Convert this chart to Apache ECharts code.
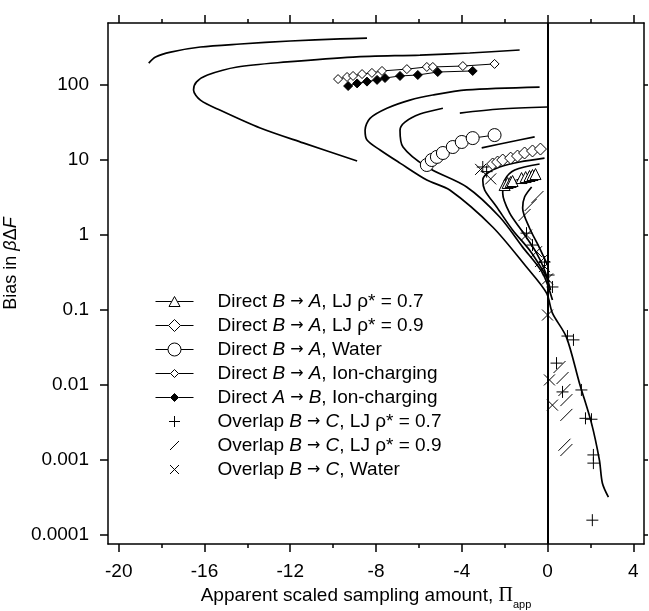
<!DOCTYPE html>
<html>
<head>
<meta charset="utf-8">
<script src="https://cdn.jsdelivr.net/npm/echarts@6/dist/echarts.min.js"></script>
<style>
html, body { margin: 0; padding: 0; background: #fff; }
#chart { width: 649px; height: 611px; }
</style>
</head>
<body>
<div id="chart"></div>
<script>
var FONT = "'Liberation Sans', Arial, sans-serif";

// axis ticks
var xMajor = [-20, -16, -12, -8, -4, 0, 4];
var xMinor = [-18, -14, -10, -6, -2, 2];
var yMajor = [0.0001, 0.001, 0.01, 0.1, 1, 10, 100];

// legend names
var names = [
    'Direct B → A, LJ ρ* = 0.7',
    'Direct B → A, LJ ρ* = 0.9',
    'Direct B → A, Water',
    'Direct B → A, Ion-charging',
    'Direct A → B, Ion-charging',
    'Overlap B → C, LJ ρ* = 0.7',
    'Overlap B → C, LJ ρ* = 0.9',
    'Overlap B → C, Water'
];
var labels = [
    '{g|Direct }{i|B}{a| → }{i|A}{n|, LJ ρ* = 0.7}',
    '{g|Direct }{i|B}{a| → }{i|A}{n|, LJ ρ* = 0.9}',
    '{g|Direct }{i|B}{a| → }{i|A}{n|, Water}',
    '{g|Direct }{i|B}{a| → }{i|A}{n|, Ion-charging}',
    '{g|Direct }{i|A}{a| → }{i|B}{n|, Ion-charging}',
    '{g|Overlap }{i|B}{a| → }{i|C}{n|, LJ ρ* = 0.7}',
    '{g|Overlap }{i|B}{a| → }{i|C}{n|, LJ ρ* = 0.9}',
    '{g|Overlap }{i|B}{a| → }{i|C}{n|, Water}'
];

// direct estimates (markers)
var ljA07X = [-2.0, -1.86, -1.72, -1.63, -1.21, -1.02, -0.84, -0.70, -0.56];
var ljA07Y = [4.64, 4.94, 5.09, 5.25, 5.75, 5.93, 6.12, 6.31, 6.5];
var ljA09X = [-2.56, -2.33, -2.09, -1.72, -1.40, -1.07, -0.70, -0.33];
var ljA09Y = [8.85, 9.4, 10, 10.6, 11.3, 12.4, 13.2, 14.0];
var waterX = [-5.63, -5.40, -5.16, -4.88, -4.42, -4.0, -3.49, -2.47];
var waterY = [8.58, 10, 11, 12.4, 14.9, 17.4, 19.6, 21.5];
var ionBAX = [-9.77, -9.35, -9.07, -8.65, -8.19, -7.72, -6.56, -5.63, -5.35, -3.95, -2.47];
var ionBAY = [120, 128, 132, 140, 145, 154, 163, 174, 174, 179, 191];
var ionABX = [-9.30, -8.88, -8.42, -7.95, -7.58, -6.88, -6.05, -5.12, -3.49];
var ionABY = [97, 105, 111, 117, 124, 132, 136, 149, 154];

// overlap estimates
var ovl07X = [-3.02, -2.84, -0.98, -0.70, -0.14, 0.05, 0.23, 0.93, 1.21, 0.42, 0.70, 1.58, 1.77, 2.05, 2.14, 2.14, 2.09];
var ovl07Y = [8.07, 7.0, 1.06, 0.735, 0.436, 0.293, 0.203, 0.045, 0.040, 0.0196, 0.0081, 0.0086, 0.0036, 0.0035, 0.00117, 0.00091, 0.000158];
var ovl09X = [-1.07, -0.79, -0.47, -0.30, 0.56, 0.70, 0.79, 0.88, 0.88, 0.79, 0.88];
var ovl09Y = [1.85, 2.51, 3.21, 0.45, 0.0174, 0.0124, 0.0086, 0.0063, 0.004, 0.0016, 0.00136];
var ovlWX = [-3.12, -2.65, -0.98, -0.51, -0.14, 0.0, 0.0, 0.09, 0.23];
var ovlWY = [7.5, 5.6, 1.0, 0.6, 0.38, 0.26, 0.0858, 0.0117, 0.0054];

// predicted curves
var curveAX = [-18.60, -18.28, -17.58, -16.19, -14.33, -12.0, -9.67, -8.42];
var curveAY = [196, 236, 275, 321, 352, 386, 411, 423];
var curveBX = [-1.30, -3.63, -5.95, -9.07, -12.14, -14.47, -15.86, -16.37, -16.51, -16.19, -15.26, -13.40, -11.40, -8.88];
var curveBY = [293, 267, 251, 236, 203, 174, 136, 110, 86, 63, 46, 26.7, 16.9, 9.7];
var curveCX = [-0.37, -3.77, -5.35, -6.42, -7.49, -8.28, -8.51, -8.42, -7.81, -6.88, -5.63, -4.56, -2.56, -0.98, -0.05, 0.23, 0.88, 1.49, 2.05, 2.42, 2.56, 2.84];
var curveCY = [94, 86, 73.6, 63, 49, 36, 25, 18.5, 13.6, 9.1, 5.41, 3.98, 1.28, 0.374, 0.169, 0.091, 0.0436, 0.0106, 0.00311, 0.001, 0.00049, 0.00032];
var curveDX = [-4.88, -5.95, -6.65, -6.88, -6.74, -5.63, -3.77, -2.23, -1.16, -0.23, 0.23];
var curveDY = [49, 41, 32, 25, 14.9, 8.07, 4.37, 1.74, 0.69, 0.311, 0.136];
var curveEX = [-4.09, -2.23, 0];
var curveEY = [42.3, 47.9, 50.9];
var curveFX = [-3.07, -1.77, -0.6];
var curveFY = [14.5, 17.4, 20.3];
var curveGX = [-0.14, -1.30, -2.23, -2.79, -3.02, -2.93, -2.37, -1.63, -0.84, -0.23, 0.09];
var curveGY = [10.6, 9.4, 8.07, 6.71, 5.41, 3.98, 2.36, 1.17, 0.63, 0.341, 0.236];
var curveHX = [-0.37, -1.53, -2.0, -2.09, -1.77, -1.16, -0.51, -0.14, 0.14];
var curveHY = [8.85, 7.36, 5.41, 3.63, 1.97, 1.1, 0.575, 0.341, 0.185];
var curveIX = [-0.74, -1.07, -1.16, -0.84, -0.37, 0];
var curveIY = [4.37, 3.21, 2.29, 1.24, 0.671, 0.398];

function pts(xs, ys) {
    return xs.map(function (x, i) { return [x, ys[i]]; });
}

var black = '#000';
var anchor = 'M0,0L0,0M38,14L38,14';
var icons = [
    'path://' + anchor + 'M0,7L16.2,7M21.8,7L38,7M13.5,12L19,2L24.5,12Z',
    'path://' + anchor + 'M0,7L13,7M25,7L38,7M13,7L19,1L25,7L19,13Z',
    'path://' + anchor + 'M0,7L12.5,7M25.5,7L38,7M12.5,7A6.5,6.5,0,1,1,25.5,7A6.5,6.5,0,1,1,12.5,7Z',
    'path://' + anchor + 'M0,7L15,7M23,7L38,7M15,7L19,3L23,7L19,11Z',
    'path://' + anchor + 'M0,7L15,7M23,7L38,7M15,7L19,3L23,7L19,11Z',
    'path://' + anchor + 'M13.5,7L24.5,7M19,1.5L19,12.5',
    'path://' + anchor + 'M14.5,11.5L23.5,2.5',
    'path://' + anchor + 'M14.5,2.5L23.5,11.5M14.5,11.5L23.5,2.5'
];
var iconFill = ['#fff', '#fff', '#fff', '#fff', '#000', 'none', 'none', 'none'];

function curve(xs, ys) {
    return {
        type: 'line', name: 'curve', data: pts(xs, ys),
        symbol: 'none', smooth: 0.3, silent: true,
        lineStyle: { color: black, width: 1.7 }
    };
}
function marked(idx, xs, ys, symbol, size, fill) {
    return {
        type: 'line', name: names[idx], data: pts(xs, ys),
        symbol: symbol, symbolSize: size,
        lineStyle: { color: black, width: 1 },
        itemStyle: { color: fill, borderColor: black, borderWidth: 1 },
        z: 3
    };
}
function scatter(idx, xs, ys, path, size) {
    return {
        type: 'scatter', name: names[idx], data: pts(xs, ys),
        symbol: path, symbolSize: size,
        itemStyle: { color: 'none', borderColor: black, borderWidth: 1, opacity: 1 },
        z: 4
    };
}

var series = [
    curve(curveAX, curveAY),
    curve(curveBX, curveBY),
    curve(curveCX, curveCY),
    curve(curveDX, curveDY),
    curve(curveEX, curveEY),
    curve(curveFX, curveFY),
    curve(curveGX, curveGY),
    curve(curveHX, curveHY),
    curve(curveIX, curveIY),
    marked(0, ljA07X, ljA07Y, 'triangle', 11, '#fff'),
    marked(1, ljA09X, ljA09Y, 'diamond', 12, '#fff'),
    marked(2, waterX, waterY, 'circle', 13, '#fff'),
    marked(3, ionBAX, ionBAY, 'diamond', 9, '#fff'),
    marked(4, ionABX, ionABY, 'diamond', 9, '#000'),
    scatter(5, ovl07X, ovl07Y, 'path://M0,5L10,5M5,0L5,10', 12),
    scatter(6, ovl09X, ovl09Y, 'path://M0,10L10,0', 12),
    scatter(7, ovlWX, ovlWY, 'path://M0,0L10,10M0,10L10,0', 11)
];
// vertical line at zero
series[0].markLine = {
    silent: true, symbol: 'none', animation: false,
    label: { show: false },
    lineStyle: { color: black, width: 2, type: 'solid' },
    data: [{ xAxis: 0 }]
};

var richText = {
    n: { fontFamily: FONT, fontSize: 19, color: black, lineHeight: 14 },
    a: { fontFamily: "'DejaVu Sans', sans-serif", fontSize: 16, color: black, lineHeight: 14 },
    g: { fontFamily: FONT, fontSize: 19, color: black, lineHeight: 14, padding: [0, 0, 0, 19] },
    i: { fontFamily: FONT, fontSize: 19, color: black, lineHeight: 14, fontStyle: 'italic' }
};

function xAxisDef(pos, ticks, len, showLine) {
    return {
        type: 'value', position: pos, min: -20.5, max: 4.5,
        axisLine: { show: showLine, onZero: false, lineStyle: { color: black, width: 1.5 } },
        axisTick: { show: true, inside: false, length: len, customValues: ticks, lineStyle: { color: black, width: 1.5 } },
        axisLabel: { show: false },
        splitLine: { show: false }
    };
}
function yAxisDef(pos, len) {
    return {
        type: 'log', logBase: 10, position: pos, min: 7.6e-5, max: 671,
        axisLine: { show: true, onZero: false, lineStyle: { color: black, width: 1.5 } },
        axisTick: { show: true, inside: false, length: len, customValues: yMajor, lineStyle: { color: black, width: 1.5 } },
        axisLabel: { show: false },
        splitLine: { show: false },
        minorTick: { show: false }
    };
}

var xBottom = xAxisDef('bottom', xMajor, 8, true);
xBottom.axisLabel = {
    show: true, customValues: xMajor, margin: 18,
    color: black, fontSize: 19, fontFamily: FONT
};
xBottom.name = '{n|Apparent scaled sampling amount, }{p|Π}{s|app}';
xBottom.nameLocation = 'middle';
xBottom.nameGap = 25;
xBottom.nameTextStyle = {
    padding: [0, 20, 0, 0],
    rich: {
        n: { fontFamily: FONT, fontSize: 19, color: black, lineHeight: 30 },
        p: { fontFamily: "'Liberation Serif', 'DejaVu Serif', serif", fontSize: 20, color: black, lineHeight: 30 },
        s: { fontFamily: FONT, fontSize: 11, color: black, lineHeight: 13, verticalAlign: 'bottom' }
    }
};

var yLeft = yAxisDef('left', 8);
yLeft.axisLabel = {
    show: true, customValues: yMajor, margin: 19,
    color: black, fontSize: 19, fontFamily: FONT,
    formatter: function (v) {
        return v >= 1 ? v.toFixed(0) : String(parseFloat(v.toPrecision(1)));
    }
};
yLeft.name = '{n|Bias in }{i|β}{n|Δ}{i|F}';
yLeft.nameLocation = 'middle';
yLeft.nameRotate = 90;
yLeft.nameGap = 72;
yLeft.nameTextStyle = {
    padding: [0, 0, 0, 40],
    rich: {
        n: { fontFamily: FONT, fontSize: 18, color: black },
        i: { fontFamily: FONT, fontSize: 18, color: black, fontStyle: 'italic' }
    }
};

var chart = echarts.init(document.getElementById('chart'), null, { renderer: 'canvas' });
chart.setOption({
    animation: false,
    backgroundColor: '#fff',
    grid: { left: 108, right: 5, top: 23, bottom: 67, containLabel: false, outerBoundsMode: 'none' },
    legend: {
        orient: 'vertical', left: 153, top: 292,
        itemWidth: 38, itemHeight: 14, itemGap: 5,
        padding: 0, selectedMode: false,
        symbolKeepAspect: true,
        data: names.map(function (nm, i) {
            return {
                name: nm, icon: icons[i],
                itemStyle: { color: iconFill[i], borderColor: black, borderWidth: 1 }
            };
        }),
        formatter: function (name) { return labels[names.indexOf(name)]; },
        textStyle: { color: black, fontSize: 19, fontFamily: FONT, lineHeight: 14, rich: richText }
    },
    xAxis: [
        xBottom,
        xAxisDef('bottom', xMinor, 4, false),
        xAxisDef('top', xMajor, 8, true),
        xAxisDef('top', xMinor, 4, false)
    ],
    yAxis: [yLeft, yAxisDef('right', 4)],
    series: series
});
</script>
</body>
</html>
